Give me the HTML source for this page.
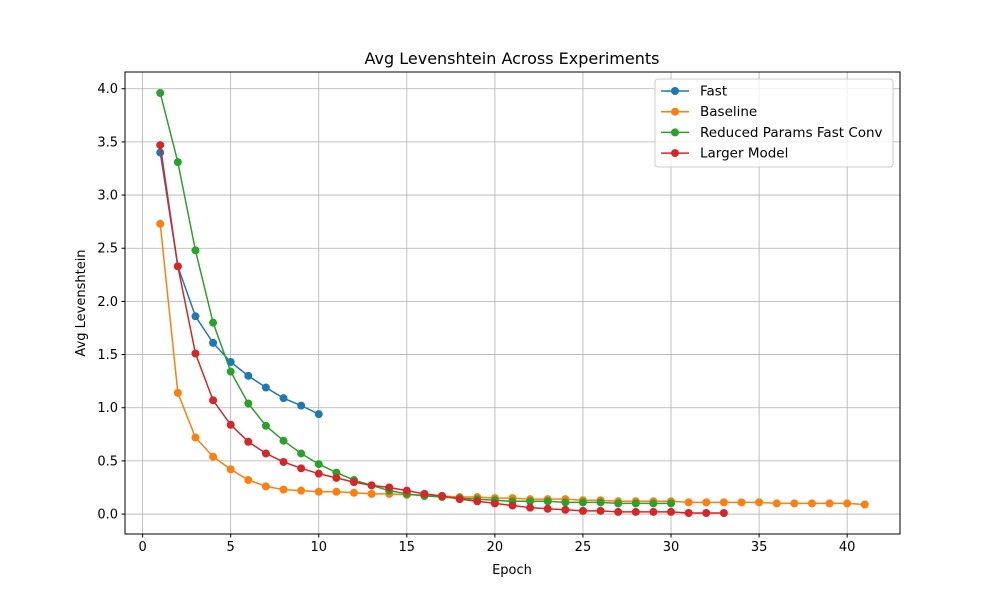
<!DOCTYPE html>
<html><head><meta charset="utf-8"><style>
body{margin:0;background:#fff;}
svg text{font-family:"DejaVu Sans","Liberation Sans",sans-serif;}
</style></head><body>
<svg id="chart" width="1000" height="600" xmlns="http://www.w3.org/2000/svg">
<rect width="1000" height="600" fill="#fff"/>
<text x="512" y="64" font-size="16" text-anchor="middle">Avg Levenshtein Across Experiments</text>
<g id="grid"></g>
<g id="series"></g>
<rect x="125" y="72" width="775" height="462" fill="none" stroke="#000" stroke-width="1"/>
<g id="ticks"></g>
<text x="512" y="574" font-size="13" text-anchor="middle">Epoch</text>
<text x="85" y="303" font-size="13" text-anchor="middle" transform="rotate(-90 85 303)">Avg Levenshtein</text>
<g id="legend"></g>
</svg>
<script>
const xTicks=[0,5,10,15,20,25,30,35,40];
const yTicks=[0.0,0.5,1.0,1.5,2.0,2.5,3.0,3.5,4.0];
const seriesNames=["Fast","Baseline","Reduced Params Fast Conv","Larger Model"];
const seriesColors=["#1f77b4","#ff7f0e","#2ca02c","#d62728"];
const fastVals=[3.40,2.33,1.86,1.61,1.43,1.30,1.19,1.09,1.02,0.94];
const baselineVals=[2.73,1.14,0.72,0.54,0.42,0.32,0.26,0.23,0.22,0.21,0.21,0.20,0.19,0.19,0.18,0.18,0.17,0.16,0.16,0.15,0.15,0.14,0.14,0.14,0.13,0.13,0.12,0.12,0.12,0.12,0.11,0.11,0.11,0.11,0.11,0.10,0.10,0.10,0.10,0.10,0.09];
const reducedVals=[3.96,3.31,2.48,1.80,1.34,1.04,0.83,0.69,0.57,0.47,0.39,0.32,0.27,0.22,0.19,0.17,0.16,0.15,0.14,0.13,0.12,0.12,0.12,0.11,0.11,0.11,0.10,0.10,0.10,0.10];
const largerVals=[3.47,2.33,1.51,1.07,0.84,0.68,0.57,0.49,0.43,0.38,0.34,0.30,0.27,0.25,0.22,0.19,0.17,0.14,0.12,0.10,0.08,0.06,0.05,0.04,0.03,0.03,0.02,0.02,0.02,0.02,0.01,0.01,0.01];

const NS="http://www.w3.org/2000/svg";
const L=125,R=900,T=72,B=534;
const all=[fastVals,baselineVals,reducedVals,largerVals];
const maxN=Math.max(...all.map(a=>a.length));
const xmin=1-(maxN-1)*0.05,xmax=maxN+(maxN-1)*0.05;
const flat=all.flat();const dmin=Math.min(...flat),dmax=Math.max(...flat);
const ymin=dmin-(dmax-dmin)*0.05,ymax=dmax+(dmax-dmin)*0.05;
const sx=v=>L+(v-xmin)/(xmax-xmin)*(R-L);
const sy=v=>B-(v-ymin)/(ymax-ymin)*(B-T);
function mk(tag,attrs,parent){const e=document.createElementNS(NS,tag);for(const k in attrs)e.setAttribute(k,attrs[k]);parent.appendChild(e);return e;}
const grid=document.getElementById('grid'),ticks=document.getElementById('ticks');
xTicks.forEach(t=>{const x=sx(t);
 const g=mk('line',{x1:x,x2:x,y1:T,y2:B,stroke:'#b0b0b0','stroke-width':0.8},grid);
 
 
 const tk=mk('line',{x1:x,x2:x,y1:B,y2:B+3.5,stroke:'#000'},ticks);
 
 
 const tx=mk('text',{x:x,y:B+17,'font-size':13,'text-anchor':'middle'},ticks);tx.textContent=t;
 
 
});
yTicks.forEach(t=>{const y=sy(t);
 const g=mk('line',{x1:L,x2:R,y1:y,y2:y,stroke:'#b0b0b0','stroke-width':0.8},grid);
 
 
 const tk=mk('line',{x1:L-3.5,x2:L,y1:y,y2:y,stroke:'#000'},ticks);
 
 
 const tx=mk('text',{x:L-7,y:y+4.5,'font-size':13,'text-anchor':'end'},ticks);tx.textContent=t.toFixed(1);
 
 
});
const sg=document.getElementById('series');
all.forEach((vals,i)=>{
 const g=mk('g',{},sg);
 
 
 const pts=vals.map((v,j)=>sx(j+1)+','+sy(v)).join(' ');
 const pl=mk('polyline',{points:pts,fill:'none',stroke:seriesColors[i],'stroke-width':1.5},g);
 
 
 vals.forEach((v,j)=>{const c=mk('circle',{cx:sx(j+1),cy:sy(v),r:4,fill:seriesColors[i]},g);
  
  });
});
const lg=document.getElementById('legend');
const box=mk('rect',{x:655,y:79,width:238,height:88,rx:3,fill:'#fff','fill-opacity':0.8,stroke:'#ccc'},lg);


seriesNames.forEach((n,i)=>{const y=91+i*20.7;
 const g=mk('g',{},lg);
 
 
 mk('line',{x1:661,x2:689,y1:y,y2:y,stroke:seriesColors[i],'stroke-width':1.5},g);
 mk('circle',{cx:675,cy:y,r:4,fill:seriesColors[i]},g);
 const t=mk('text',{x:700,y:y+4.5,'font-size':13.5},g);t.textContent=n;
});
</script>
</body></html>
